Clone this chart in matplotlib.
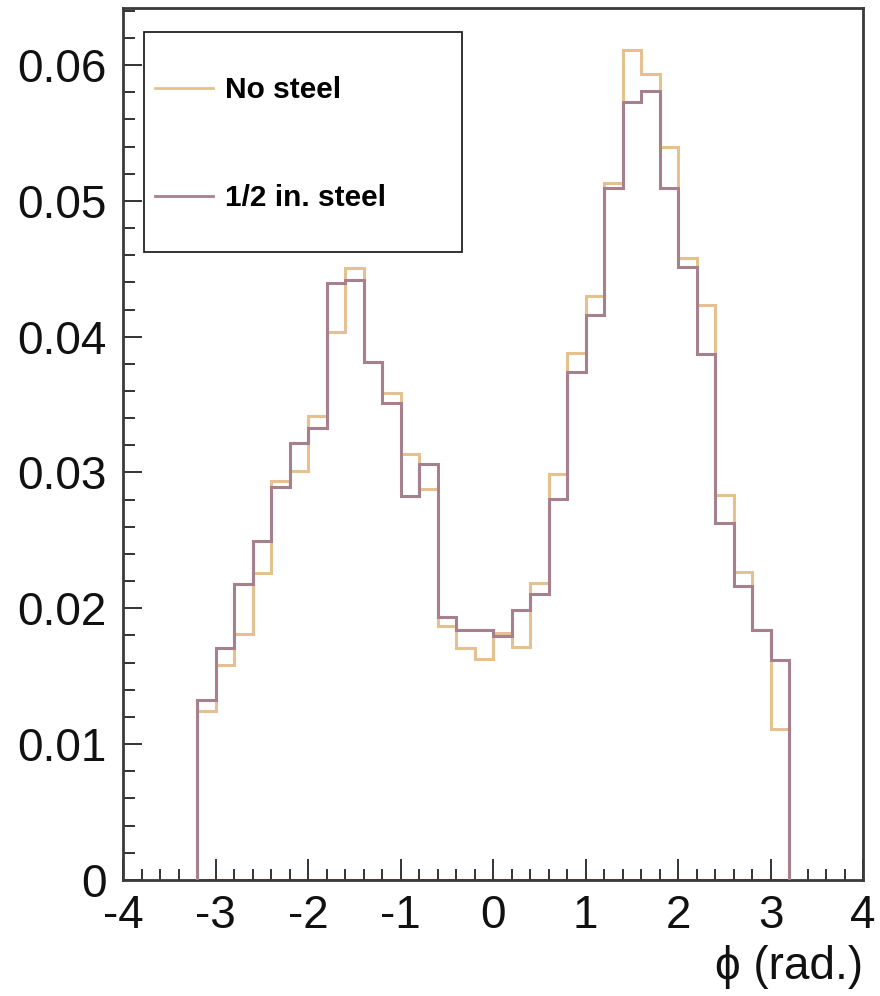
import matplotlib
matplotlib.use('Agg')

import matplotlib.pyplot as plt
from matplotlib.patches import Rectangle
from matplotlib.ticker import MultipleLocator
import numpy as np

plt.rcParams['font.family'] = ['Liberation Sans', 'DejaVu Sans']
plt.rcParams['axes.unicode_minus'] = False

# bordes de los bins (32 bins entre -3.2 y 3.2)
bordes = np.linspace(-3.2, 3.2, 33)

sin_acero = [0.01246, 0.01583, 0.01812, 0.02259, 0.02935, 0.03009, 0.03414, 0.04032,
             0.04503, 0.03810, 0.03587, 0.03134, 0.02881, 0.01868, 0.01708, 0.01628,
             0.01817, 0.01713, 0.02185, 0.02992, 0.03881, 0.04299, 0.05130, 0.06108,
             0.05934, 0.05400, 0.04577, 0.04233, 0.02832, 0.02271, 0.01841, 0.01111]
medio_acero = [0.01327, 0.01708, 0.02181, 0.02493, 0.02893, 0.03218, 0.03329, 0.04393,
               0.04417, 0.03810, 0.03515, 0.02827, 0.03065, 0.01934, 0.01840, 0.01840,
               0.01799, 0.01989, 0.02107, 0.02802, 0.03741, 0.04159, 0.05093, 0.05725,
               0.05811, 0.05093, 0.04511, 0.03872, 0.02628, 0.02161, 0.01841, 0.01620]

etiquetas = ['No steel', '1/2 in. steel']
colores = ['#E6C190', '#A7808E']

fig = plt.figure(figsize=(8.8, 9.96), dpi=100)
ax = fig.add_axes([0.1398, 0.1165, 0.8409, 0.8755])

ax.hlines(0, bordes[0], bordes[-1], color='#D83A3A', lw=2.2, zorder=1)
ax.stairs(sin_acero, bordes, baseline=0, color=colores[0], lw=2.2, label=etiquetas[0], zorder=2)
ax.stairs(medio_acero, bordes, baseline=0, color=colores[1], lw=2.2, label=etiquetas[1], zorder=3)

ax.set_xlim(-4, 4)
ax.set_ylim(0, 0.0642)

ax.xaxis.set_major_locator(MultipleLocator(1))
ax.xaxis.set_minor_locator(MultipleLocator(0.2))
ax.yaxis.set_major_locator(MultipleLocator(0.01))
ax.yaxis.set_minor_locator(MultipleLocator(0.002))
ax.yaxis.set_major_formatter(plt.FuncFormatter(lambda v, p: '%g' % round(v, 4)))
ax.xaxis.set_major_formatter(plt.FuncFormatter(lambda v, p: '%g' % v))

ax.tick_params(which='both', direction='in', colors='#333333', labelcolor='#111111', width=1.4,
               labelsize=33)
ax.tick_params(axis='x', which='major', length=15, pad=10)
ax.tick_params(axis='x', which='minor', length=8)
ax.tick_params(axis='y', which='major', length=14, pad=12)
ax.tick_params(axis='y', which='minor', length=8.5)

for s in ax.spines.values():
    s.set_color('#3a3a3a')
    s.set_linewidth(2)

ax.set_xlabel('\u03d5 (rad.)', fontsize=33, loc='right', labelpad=5, color='#111111')

# caja de la leyenda
ax.add_patch(Rectangle((0.0284, 0.720), 0.430, 0.2525, transform=ax.transAxes,
                       fill=False, edgecolor='#222222', lw=1.3, zorder=5))
leg = ax.legend(loc='upper left', bbox_to_anchor=(0.043, 0.922), frameon=False,
                borderpad=0, borderaxespad=0, handlelength=1.95, handletextpad=0.4,
                labelspacing=2.68, prop={'weight': 'bold', 'size': 21.5})
for h in leg.legend_handles:
    h.set_linewidth(2)

plt.savefig('out.png', dpi=100)
plt.close(fig)
